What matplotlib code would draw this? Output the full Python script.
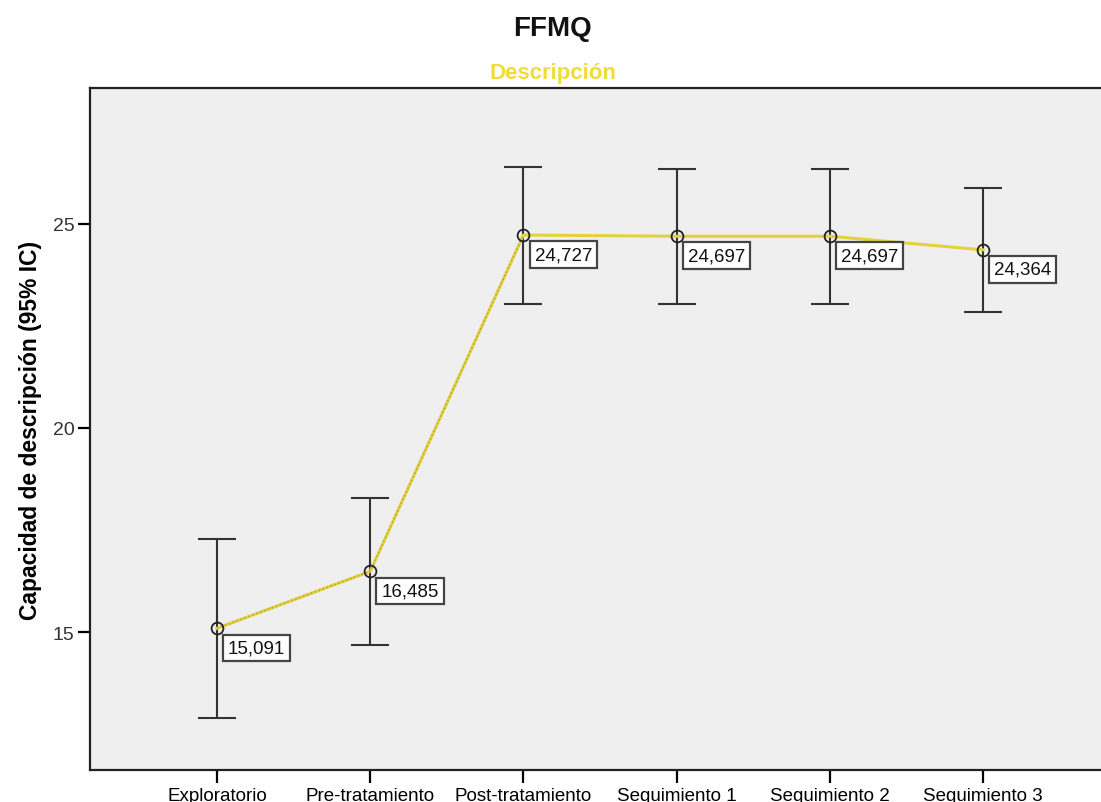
import matplotlib.pyplot as plt
import numpy as np

plt.rcParams["font.family"] = ["Liberation Sans", "DejaVu Sans"]

categories = ["Exploratorio", "Pre-tratamiento", "Post-tratamiento",
              "Seguimiento 1", "Seguimiento 2", "Seguimiento 3"]
means = [15.091, 16.485, 24.727, 24.697, 24.697, 24.364]
ci_low = [12.89, 14.68, 23.04, 23.04, 23.04, 22.84]
ci_high = [17.28, 18.28, 26.40, 26.35, 26.35, 25.88]
labels = ["15,091", "16,485", "24,727", "24,697", "24,697", "24,364"]

fig = plt.figure(figsize=(11.01, 8.03), dpi=100)
ax = fig.add_axes([0.0817, 0.0399, 0.9183, 0.8493])
ax.set_facecolor("#efefef")

x = np.arange(len(categories))
means_a = np.array(means)
yerr = np.vstack([means_a - np.array(ci_low), np.array(ci_high) - means_a])

ax.errorbar(x, means_a, yerr=yerr, fmt="none", ecolor="#333333",
            elinewidth=1.5, capsize=13.7, capthick=1.5, zorder=2)
ax.plot(x, means_a, color="#e4d23c", linewidth=2.2, zorder=3)
ax.plot(x[:3], means_a[:3], color="#9c9040", linewidth=1.2,
        linestyle=(0, (1, 1.5)), alpha=0.6, zorder=3)
ax.plot(x, means_a, linestyle="none", marker="o", markersize=8.5,
        markerfacecolor="none", markeredgecolor="#222222",
        markeredgewidth=1.3, zorder=4)

for xi, yi, lab in zip(x, means_a, labels):
    ax.annotate(lab, (xi, yi), xytext=(8, -8), textcoords="offset points",
                ha="left", va="top", fontsize=13.5, color="#111111",
                bbox=dict(boxstyle="square,pad=0.26", facecolor="white",
                          edgecolor="#444444", linewidth=1.6), zorder=5)

ax.set_xlim(-0.829, 5.77)
ax.set_ylim(11.62, 28.33)
ax.set_xticks(x)
ax.set_xticklabels(categories, fontsize=13.5)
ax.set_yticks([15, 20, 25])
ax.tick_params(axis="x", direction="out", length=9, width=1.6, pad=3)
ax.tick_params(axis="y", direction="out", length=9, width=1.6, pad=2,
               labelsize=14, labelcolor="#333333")
for side in ("left", "bottom", "top"):
    ax.spines[side].set_linewidth(1.6)
    ax.spines[side].set_color("#222222")
ax.spines["right"].set_visible(False)

ax.set_ylabel("Capacidad de descripción (95% IC)", fontsize=16.5,
              fontweight="bold", labelpad=8)

fig.text(0.502, 0.964, "FFMQ", ha="center", va="center", fontsize=20,
         fontweight="bold", color="#111111")
fig.text(0.502, 0.909, "Descripción", ha="center", va="center", fontsize=16,
         fontweight="bold", color="#f0dc38")

fig.savefig("out.png", dpi=100)
